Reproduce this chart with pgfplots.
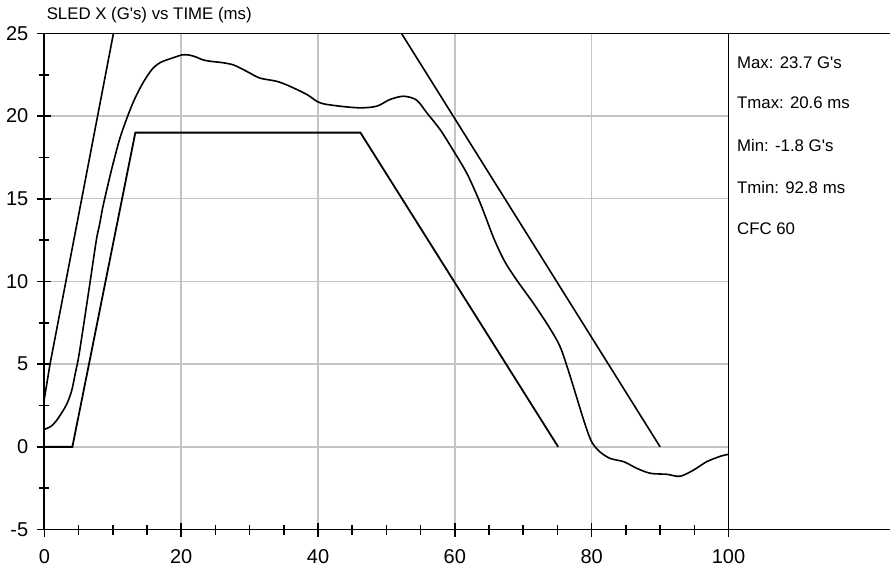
\documentclass[border=0pt]{standalone}
\usepackage{fontspec}
\setmainfont{Liberation Sans}[Ligatures=TeXOff]
\usepackage{pgfplots}
\pgfplotsset{compat=1.18}
\definecolor{gridgray}{HTML}{C4C4C4}

\begin{document}
\begin{tikzpicture}
  \begin{axis}[
    scale only axis, width=342pt, height=248pt,
    xmin=0, xmax=100, ymin=-5, ymax=25,
    xtick={0,20,...,100}, ytick={-5,0,...,25},
    minor x tick num=3, minor y tick num=1,
    tick pos=left, tick align=center,
    major tick length=7pt, minor tick length=5pt,
    every tick/.style={black, line width=0.8pt},
    axis line style={black, line width=0.9pt},
    grid=major, grid style={gridgray, line width=0.7pt},
    /pgf/number format/assume math mode=true,
    tick label style={font=\fontsize{10}{12}\selectfont},
    xticklabel style={yshift=-3pt},
    yticklabel style={xshift=-1pt},
    clip=false,
  ]
    % upper corridor
    \addplot[black, line width=0.8pt] coordinates {(0,2.9) (0.83,5) (10.1,25)};
    \addplot[black, line width=0.8pt] coordinates {(52.2,25) (90,0)};
    % lower corridor
    \addplot[black, line width=0.9pt] coordinates {(0,0) (4.1,0) (13.3,19) (46.2,19) (75.1,0)};
    % sled pulse
    \addplot[black, line width=0.8pt, smooth, tension=0.5] coordinates {
      (0,1.05) (1.0,1.25) (1.8,1.6) (2.6,2.1) (3.3,2.6) (4.0,3.4) (4.5,4.4)
      (5.0,5.4) (5.7,7.25) (6.7,10) (7.6,12.5) (8.1,13.5) (8.6,14.6) (9.85,16.8)
      (11,18.6) (12.0,19.8) (13,20.85) (14.0,21.7) (15,22.4) (16.0,22.95) (17,23.25)
      (17.9,23.4) (19,23.55) (20.1,23.7) (21.0,23.7) (22,23.6) (23.2,23.4)
      (24.5,23.3) (25.7,23.25) (27.6,23.1) (29.6,22.7) (31.5,22.3) (34,22.1)
      (35.9,21.8) (38.4,21.3) (40.3,20.8) (43.2,20.6) (46.2,20.5) (48.6,20.6)
      (50.5,21.0) (52.5,21.2) (54.4,20.97) (55.9,20.2) (57.9,19.15) (59.8,17.9)
      (61.8,16.5) (63.7,14.75) (65.7,12.6) (67.3,11.2) (69.1,10.05) (71.5,8.67)
      (73.9,7.16) (75.4,6.04) (76.6,4.6) (77.8,3.0) (79.0,1.4) (80.0,0.3)
      (81.2,-0.3) (82.7,-0.7) (84.7,-0.9) (86.6,-1.3) (88.6,-1.6) (91.0,-1.66)
      (92.9,-1.78) (94.9,-1.4) (96.8,-0.9) (98.8,-0.57) (100,-0.45)};

    % side panel
    \draw[black, line width=0.9pt] (axis cs:100,25) -- (axis cs:123.6,25);
    \draw[black, line width=0.9pt] (axis cs:100,-5) -- (axis cs:123.6,-5);
    \begin{scope}[every node/.style={anchor=west, inner sep=0pt, font=\fontsize{8.4}{10}\selectfont}]
      \node at (axis cs:101.2,23.2) {Max: 23.7 G's};
      \node at (axis cs:101.2,20.8) {Tmax: 20.6 ms};
      \node at (axis cs:101.2,18.2) {Min: -1.8 G's};
      \node at (axis cs:101.2,15.7) {Tmin: 92.8 ms};
      \node at (axis cs:101.2,13.2) {CFC 60};
    \end{scope}
    \node[anchor=west, inner sep=0pt, font=\fontsize{8.4}{10}\selectfont] at (axis cs:0.3,26.1) {SLED X (G's) vs TIME (ms)};

    \coordinate (bbbl) at (axis cs:-6.48,-7.16);
    \coordinate (bbtr) at (axis cs:123.6,27.02);
  \end{axis}
  \pgfresetboundingbox
  \path[use as bounding box] (bbbl) rectangle (bbtr);
\end{tikzpicture}
\end{document}
